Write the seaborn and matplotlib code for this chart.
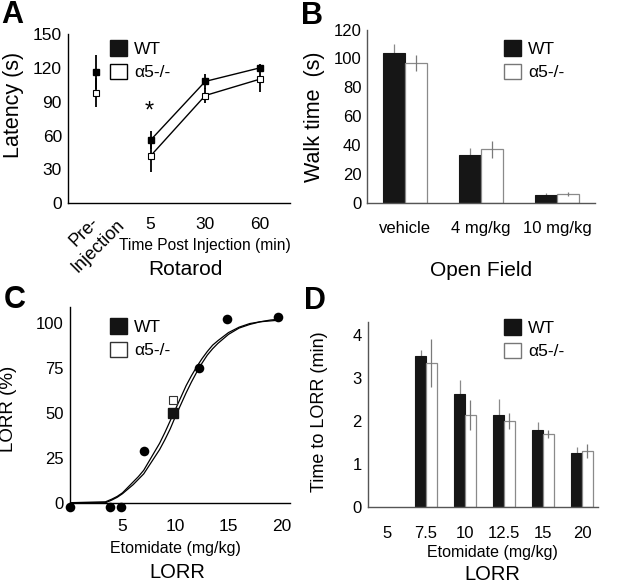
import numpy as np
import pandas as pd
import matplotlib
matplotlib.use('Agg')
import matplotlib.pyplot as plt
from matplotlib.patches import Patch
import seaborn as sns

# ---- A: rotarod latency (s)
rot_labels = ['Pre-\nInjection', '5', '30', '60']
rot_wt = [116, 56, 108, 120]
rot_wt_err = [15, 8, 7, 3.5]
rot_ko = [98, 42, 95.5, 110]
rot_ko_err = [13, 14, 7, 11.5]

# ---- B: open field walk time (s)
of_doses = ['vehicle', '4 mg/kg', '10 mg/kg']
of_wt = [104, 33, 5]
of_wt_err = [6, 5, 1.5]
of_ko = [96.5, 37, 6]
of_ko_err = [5.5, 6, 1.5]

# ---- C: LORR (%) vs etomidate dose
lorr_dose = [0, 3.8, 4.85, 7.05, 12.25, 14.85, 19.7]
lorr_pct = [-2.5, -2.5, -2.5, 28.7, 75, 102, 103]
ed50_dose = [9.8, 9.8]
ed50_pct = [50, 57]
curve_x = [0, 3.4, 4.0, 4.5, 5.0, 5.5, 6.0, 6.5, 7.0, 7.5, 8.0, 8.5, 9.0, 9.5, 10.0,
           10.5, 11.0, 11.5, 12.0, 12.5, 13.0, 13.5, 14.0, 15.0, 16.0, 17.0, 18.0, 19.0, 20.0]
curve_wt = [0, 0, 1.5, 3, 5, 7.5, 10, 13, 16, 20.5, 25, 29.5, 35, 41, 48,
            54.5, 61, 67, 72.5, 77.5, 82, 85.5, 88.5, 93.5, 97, 99, 100.5, 101.5, 102]
curve_ko = [0, 0.5, 2, 3.5, 5.5, 8.5, 11.5, 14.5, 18, 23, 28, 33, 39, 45.5, 52,
            58.5, 65, 70.5, 75.5, 80, 84, 87.5, 90, 94.5, 97.5, 99.5, 100.5, 101, 101.5]

# ---- D: time to LORR (min)
tl_doses = ['5', '7.5', '10', '12.5', '15', '20']
tl_wt = [np.nan, 3.52, 2.63, 2.15, 1.78, 1.25]
tl_wt_err = [np.nan, 0.13, 0.32, 0.35, 0.2, 0.15]
tl_ko = [np.nan, 3.35, 2.13, 2.0, 1.7, 1.3]
tl_ko_err = [np.nan, 0.55, 0.35, 0.18, 0.1, 0.17]

groups = ['WT', 'α5-/-']

sns.set_style('white')
plt.rcParams['font.family'] = ['Liberation Sans', 'DejaVu Sans']
plt.rcParams['axes.linewidth'] = 1.0
for k in ['text.color', 'axes.labelcolor', 'xtick.color', 'ytick.color', 'axes.edgecolor']:
    plt.rcParams[k] = 'black'

W, H = 640, 585
fig = plt.figure(figsize=(6.4, 5.85), dpi=100)


def rect(left, top, right, bottom):
    return [left / W, 1 - bottom / H, (right - left) / W, (bottom - top) / H]


def fxy(x, y):
    return x / W, 1 - y / H


def add_legend(ax, x, y, edge):
    handles = [Patch(facecolor='#141414', edgecolor='#141414', label=groups[0]),
               Patch(facecolor='white', edgecolor=edge, label=groups[1])]
    ax.legend(handles=handles, loc='upper left', bbox_to_anchor=fxy(x, y),
              bbox_transform=fig.transFigure, frameon=False, fontsize=12.5,
              handlelength=1.0, handleheight=1.0, handletextpad=0.4,
              labelspacing=0.4, borderpad=0, borderaxespad=0)


def bar_panel(ax, cats, wt, wt_err, ko, ko_err, width):
    rows = []
    for c, a, b in zip(cats, wt, ko):
        if not np.isnan(a):
            rows.append((c, groups[0], a))
            rows.append((c, groups[1], b))
    df = pd.DataFrame(rows, columns=['dose', 'geno', 'val'])
    sns.barplot(data=df, x='dose', y='val', hue='geno', order=cats, hue_order=groups,
                palette={groups[0]: '#161616', groups[1]: 'white'}, saturation=1,
                width=width, errorbar=None, legend=False, ax=ax)
    for bar in ax.containers[0]:
        bar.set_edgecolor('#161616')
        bar.set_linewidth(0.8)
    for bar in ax.containers[1]:
        bar.set_edgecolor('#8a8a8a')
        bar.set_linewidth(0.9)
    idx = np.arange(len(cats))
    off = width / 4
    ax.errorbar(idx - off, wt, yerr=wt_err, fmt='none', ecolor='#8a8a8a',
                elinewidth=0.9, capsize=0, zorder=0.5)
    ax.errorbar(idx + off, ko, yerr=ko_err, fmt='none', ecolor='#7a7a7a',
                elinewidth=0.9, capsize=0, zorder=3)
    ax.set_xlabel('')
    for s in ['top', 'right']:
        ax.spines[s].set_visible(False)
    for s in ['left', 'bottom']:
        ax.spines[s].set_color('#555555')
    ax.tick_params(axis='x', length=0, labelsize=12)
    ax.tick_params(axis='y', length=3, width=0.8, color='#555555', labelsize=12, pad=1)


# ================= A
axA = fig.add_axes(rect(67.5, 34, 290, 203.3))
idx = np.arange(len(rot_labels))
axA.errorbar(idx, rot_wt, yerr=rot_wt_err, fmt='none', ecolor='black', elinewidth=1.3, capsize=0)
axA.errorbar(idx, rot_ko, yerr=rot_ko_err, fmt='none', ecolor='black', elinewidth=1.3, capsize=0)
sns.lineplot(x=idx[1:], y=rot_wt[1:], color='black', lw=1.0, ax=axA)
sns.lineplot(x=idx[1:], y=rot_ko[1:], color='black', lw=1.0, ax=axA)
axA.plot(idx, rot_wt, ls='none', marker='s', ms=4, mfc='black', mec='black', zorder=4)
axA.plot(idx, rot_ko, ls='none', marker='s', ms=4.5, mfc='white', mec='black', mew=0.8, zorder=4)
axA.text(0.97, 81, '*', ha='center', va='center', fontsize=17)
axA.set_xlim(-0.52, 3.55)
axA.set_ylim(0, 150)
axA.set_yticks([0, 30, 60, 90, 120, 150])
axA.set_xticks(idx)
axA.set_xticklabels([''] + rot_labels[1:])
fig.text(*fxy(91, 239), rot_labels[0], rotation=45, ha='center', va='center',
         multialignment='center', linespacing=1.2, fontsize=13)
for s in ['top', 'right']:
    axA.spines[s].set_visible(False)
axA.tick_params(axis='x', length=4, width=1, direction='out', labelsize=12.5, pad=6)
axA.tick_params(axis='y', length=3, width=1, direction='out', labelsize=12.5, pad=1)
axA.set_ylabel('Latency (s)', fontsize=15.5)
axA.yaxis.set_label_coords(24 / W, 1 - 105 / H, transform=fig.transFigure)
fig.text(*fxy(204.5, 245), 'Time Post Injection (min)', ha='center', va='center', fontsize=11.2)
fig.text(*fxy(185, 269.5), 'Rotarod', ha='center', va='center', fontsize=15)
add_legend(axA, 110, 40, 'black')

# ================= B
axB = fig.add_axes(rect(367, 29.5, 595, 202.7))
bar_panel(axB, of_doses, of_wt, of_wt_err, of_ko, of_ko_err, 0.58)
axB.set_xlim(-0.5, 2.5)
axB.set_ylim(0, 120)
axB.set_yticks([0, 20, 40, 60, 80, 100, 120])
axB.tick_params(axis='x', pad=13)
axB.set_ylabel('Walk time  (s)', fontsize=15.5)
axB.yaxis.set_label_coords(325 / W, 1 - 117 / H, transform=fig.transFigure)
fig.text(*fxy(481, 270), 'Open Field', ha='center', va='center', fontsize=15)
add_legend(axB, 504, 40, '#777777')

# ================= C
axC = fig.add_axes(rect(69.5, 307, 290, 509.9))
axC.plot(curve_x, curve_wt, color='black', lw=0.9)
axC.plot(curve_x, curve_ko, color='black', lw=0.9)
sns.scatterplot(x=lorr_dose, y=lorr_pct, color='black', s=48, edgecolor='black',
                linewidth=0, clip_on=False, zorder=5, ax=axC)
axC.plot(ed50_dose[0], ed50_pct[0], ls='none', marker='s', ms=6.5, mfc='#141414', mec='#141414', zorder=6)
axC.plot(ed50_dose[1], ed50_pct[1], ls='none', marker='s', ms=6, mfc='white', mec='#333333', mew=0.8, zorder=6)
axC.set_xlim(0, 20.8)
axC.set_ylim(-4, 108.7)
axC.set_yticks([0, 25, 50, 75, 100])
axC.set_xticks([5, 10, 15, 20])
axC.spines['bottom'].set_position(('data', 0))
axC.spines['left'].set_bounds(0, 108.7)
for s in ['top', 'right']:
    axC.spines[s].set_visible(False)
axC.tick_params(axis='x', length=4, width=1, direction='in', labelsize=12.5, pad=12)
axC.tick_params(axis='y', length=3, width=1, direction='out', labelsize=12, pad=1)
axC.set_ylabel('LORR (%)', fontsize=13.5)
axC.yaxis.set_label_coords(17 / W, 1 - 409 / H, transform=fig.transFigure)
fig.text(*fxy(175, 548), 'Etomidate (mg/kg)', ha='center', va='center', fontsize=11.5)
fig.text(*fxy(177, 572), 'LORR', ha='center', va='center', fontsize=14.5)
add_legend(axC, 110, 318, '#333333')

# ================= D
axD = fig.add_axes(rect(367.5, 322, 597.6, 507))
bar_panel(axD, tl_doses, tl_wt, tl_wt_err, tl_ko, tl_ko_err, 0.56)
axD.set_xlim(-0.5, 5.4)
axD.set_ylim(0, 4.3)
axD.set_yticks([0, 1, 2, 3, 4])
axD.tick_params(axis='x', pad=14)
axD.set_ylabel('Time to LORR (min)', fontsize=13)
axD.yaxis.set_label_coords(328 / W, 1 - 412 / H, transform=fig.transFigure)
fig.text(*fxy(492, 552), 'Etomidate (mg/kg)', ha='center', va='center', fontsize=11.5)
fig.text(*fxy(492, 575), 'LORR', ha='center', va='center', fontsize=14.5)
add_legend(axD, 504, 319, '#777777')

# panel letters
for letter, x, y in [('A', 1, 0), ('B', 301, 1), ('C', 4, 285), ('D', 304, 286)]:
    fig.text(*fxy(x, y), letter, ha='left', va='top', fontsize=22, fontweight='bold')

fig.savefig('out.png', dpi=100)
